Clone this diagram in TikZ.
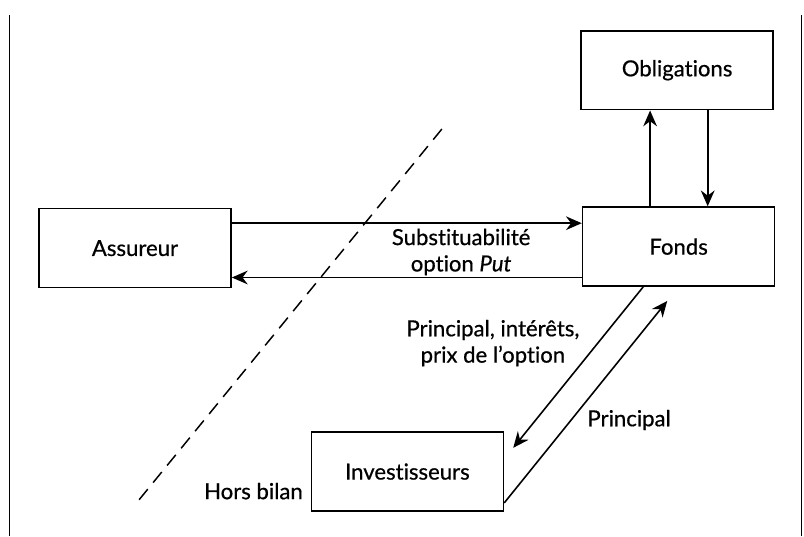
\documentclass[tikz,border=0pt]{standalone}
\usepackage{fontspec}
\setmainfont{Lato}[Ligatures=NoCommon, FakeBold=0.6]
\usetikzlibrary{arrows.meta,positioning,calc}

\begin{document}
\begin{tikzpicture}[font=\fontsize{21}{25}\selectfont]
	\tikzset{
		block/.style = {rectangle, draw, line width=1.6pt, minimum width=6.4cm, minimum height=2.63cm, text centered},
		flow/.style = {line width=1.5pt, -{Stealth[length=15pt,width=13pt]}},
		lbl/.style = {align=center, inner sep=0pt}
	}
	\useasboundingbox (0,0) rectangle (26.8,17.87);
	% frame
	\draw[line width=1pt] (0.33,0) -- (0.33,17.37);
	\draw[line width=1pt] (26.73,0) -- (26.73,17.37);
	% boxes
	\node[block] (assureur) at (4.5,9.6) {Assureur};
	\node[block] (fonds) at (22.62,9.65) {Fonds};
	\node[block] (oblig) at (22.57,15.53) {Obligations};
	\node[block] (invest) at (13.58,2.15) {Investisseurs};
	% assureur <-> fonds
	\coordinate (a1) at ([yshift=0.83cm]assureur.east);
	\coordinate (a2) at ([yshift=-1.03cm]fonds.west);
	\draw[flow] (a1) -- (a1 -| fonds.west);
	\draw[flow] (a2) -- (a2 -| assureur.east);
	% fonds <-> obligations
	\coordinate (o1) at ([xshift=-0.95cm]fonds.north);
	\coordinate (o2) at ([xshift=1.02cm]oblig.south);
	\draw[flow] (o1) -- (o1 |- oblig.south);
	\draw[flow] (o2) -- (o2 |- fonds.north);
	% fonds <-> investisseurs
	\draw[flow] ([xshift=-1.18cm]fonds.south) -- ([shift={(0.3,-0.55)}]invest.north east);
	\draw[flow] ([yshift=0.3cm]invest.south east) -- ([shift={(-0.38,-0.47)}]fonds.south);
	% labels
	\node[lbl] (subst) at (15.37,9.47) {Substituabilité\\option \textit{Put}};
	\node[lbl] (pio) at (16.43,6.43) {Principal, intérêts,\\prix de l’option};
	\node[lbl] (princ) at (20.97,3.87) {Principal};
	\node[lbl, anchor=east] (hors) at (10.1,1.5) {Hors bilan};
	% hors bilan limit
	\coordinate (dtop) at (14.73,13.57);
	\coordinate (dbot) at (4.57,1.13);
	\draw[line width=1.4pt, dash pattern=on 13pt off 8pt] (dtop) -- (dbot);
\end{tikzpicture}
\end{document}
